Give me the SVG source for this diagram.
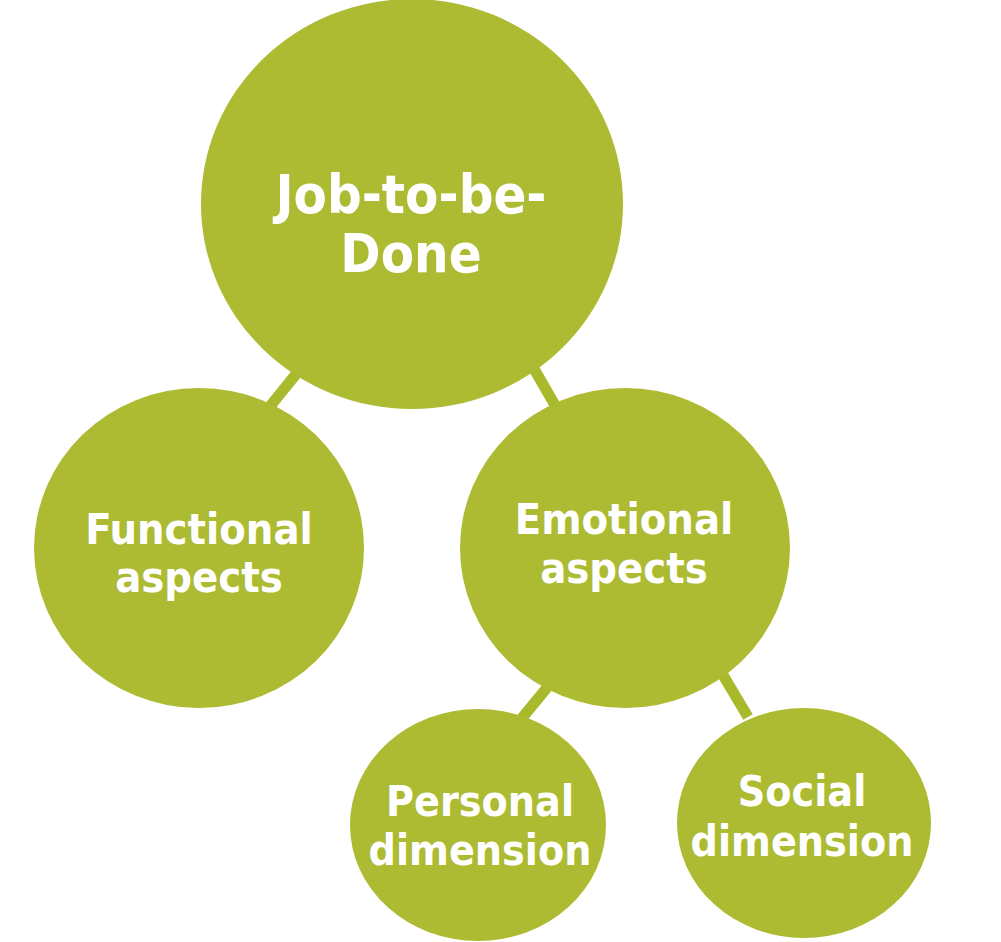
<svg xmlns="http://www.w3.org/2000/svg" width="1001" height="942" viewBox="0 0 1001 942">
<style>
.n{fill:#ADBB33}
.c{stroke:#A8BA2C;stroke-width:11;fill:none}
text{font-family:"DejaVu Sans Condensed","DejaVu Sans",Verdana,sans-serif;font-stretch:condensed;font-weight:bold;fill:#FFFFFF;text-anchor:middle}
</style>
<rect width="1001" height="942" fill="#FFFFFF"/>
<g id="connectors">
<line class="c" x1="297" y1="373" x2="267" y2="410"/>
<line class="c" x1="533" y1="367" x2="556" y2="407"/>
<line class="c" x1="555" y1="678" x2="522" y2="718"/>
<line class="c" x1="723" y1="675" x2="748" y2="717"/>
</g>
<g id="jtbd">
<ellipse class="n" cx="412" cy="204" rx="211" ry="205"/>
<text x="411" y="213" font-size="54">Job-to-be-</text>
<text x="411" y="272" font-size="54">Done</text>
</g>
<g id="functional">
<ellipse class="n" cx="199" cy="548" rx="165" ry="160"/>
<text x="199" y="544" font-size="43">Functional</text>
<text x="199" y="592" font-size="43">aspects</text>
</g>
<g id="emotional">
<ellipse class="n" cx="625" cy="548" rx="165" ry="160"/>
<text x="624" y="534" font-size="43">Emotional</text>
<text x="624" y="583" font-size="43">aspects</text>
</g>
<g id="personal">
<ellipse class="n" cx="478" cy="825" rx="128" ry="116"/>
<text x="480" y="816" font-size="42.5">Personal</text>
<text x="480" y="865" font-size="42.5">dimension</text>
</g>
<g id="social">
<ellipse class="n" cx="804" cy="823" rx="127" ry="115"/>
<text x="802" y="806" font-size="42.5">Social</text>
<text x="802" y="856" font-size="42.5">dimension</text>
</g>
</svg>
